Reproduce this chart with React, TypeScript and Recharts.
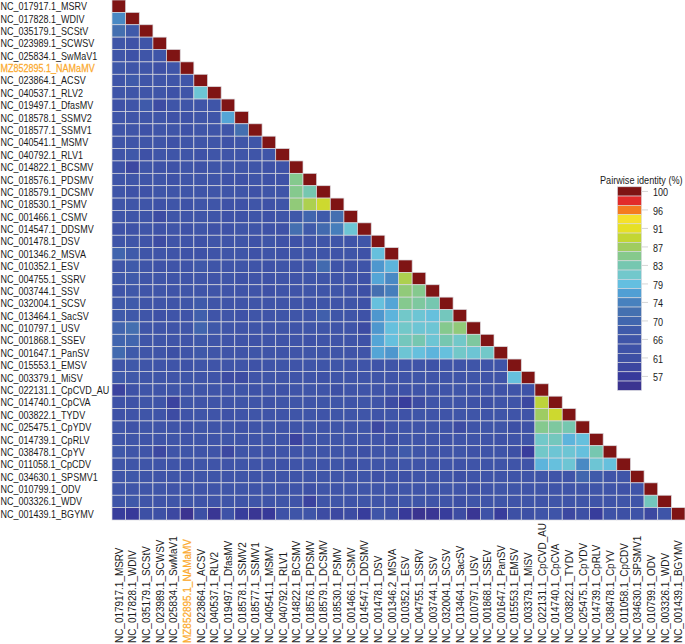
import { Scatter, ScatterChart, XAxis, YAxis } from "recharts";

const taxa = [
  "NC_017917.1_MSRV", "NC_017828.1_WDIV", "NC_035179.1_SCStV", "NC_023989.1_SCWSV", "NC_025834.1_SwMaV1",
  "MZ852895.1_NAMaMV", "NC_023864.1_ACSV", "NC_040537.1_RLV2", "NC_019497.1_DfasMV", "NC_018578.1_SSMV2",
  "NC_018577.1_SSMV1", "NC_040541.1_MSMV", "NC_040792.1_RLV1", "NC_014822.1_BCSMV", "NC_018576.1_PDSMV",
  "NC_018579.1_DCSMV", "NC_018530.1_PSMV", "NC_001466.1_CSMV", "NC_014547.1_DDSMV", "NC_001478.1_DSV",
  "NC_001346.2_MSVA", "NC_010352.1_ESV", "NC_004755.1_SSRV", "NC_003744.1_SSV", "NC_032004.1_SCSV",
  "NC_013464.1_SacSV", "NC_010797.1_USV", "NC_001868.1_SSEV", "NC_001647.1_PanSV", "NC_015553.1_EMSV",
  "NC_003379.1_MiSV", "NC_022131.1_CpCVD_AU", "NC_014740.1_CpCVA", "NC_003822.1_TYDV", "NC_025475.1_CpYDV",
  "NC_014739.1_CpRLV", "NC_038478.1_CpYV", "NC_011058.1_CpCDV", "NC_034630.1_SPSMV1", "NC_010799.1_ODV",
  "NC_003326.1_WDV", "NC_001439.1_BGYMV",
];

// lower triangle of the identity matrix, one row per taxon
const identity: number[][] = [
  [100],
  [75, 100],
  [72, 68, 100],
  [66, 64, 66, 100],
  [66, 64, 66, 66, 100],
  [67, 66, 66, 63, 66, 100],
  [66, 68, 66, 66, 66, 66, 100],
  [66, 66, 66, 66, 64, 66, 80, 100],
  [64, 66, 68, 61, 66, 66, 66, 66, 100],
  [66, 66, 66, 66, 64, 64, 66, 66, 77, 100],
  [66, 66, 64, 66, 66, 64, 66, 66, 66, 72, 100],
  [66, 66, 66, 66, 64, 66, 66, 66, 64, 66, 66, 100],
  [66, 67, 63, 66, 66, 66, 64, 66, 66, 66, 66, 66, 100],
  [64, 60, 66, 64, 64, 66, 64, 66, 66, 66, 66, 64, 64, 100],
  [66, 66, 66, 66, 64, 66, 66, 66, 64, 64, 66, 64, 64, 85, 100],
  [66, 64, 64, 66, 66, 66, 66, 66, 66, 66, 64, 66, 66, 85, 83, 100],
  [66, 66, 66, 64, 66, 64, 66, 66, 64, 64, 66, 64, 66, 86, 88, 90, 100],
  [66, 66, 66, 61, 66, 66, 66, 66, 64, 64, 66, 64, 66, 67, 70, 68, 72, 100],
  [64, 64, 66, 64, 66, 64, 66, 64, 64, 66, 66, 64, 64, 72, 68, 71, 74, 80, 100],
  [66, 66, 65, 61, 65, 65, 64, 66, 65, 66, 64, 66, 64, 64, 65, 66, 66, 65, 66, 100],
  [70, 68, 66, 65, 65, 64, 64, 65, 66, 66, 64, 65, 64, 66, 65, 66, 65, 66, 64, 79, 100],
  [66, 68, 66, 64, 65, 65, 67, 66, 65, 66, 65, 64, 66, 65, 66, 71, 65, 65, 65, 76, 78, 100],
  [67, 68, 66, 66, 65, 65, 66, 65, 66, 64, 65, 64, 65, 65, 66, 66, 65, 65, 64, 77, 75, 88, 100],
  [66, 67, 66, 66, 65, 66, 66, 66, 65, 65, 65, 63, 65, 65, 66, 66, 66, 65, 62, 72, 74, 86, 85, 100],
  [67, 68, 66, 65, 65, 66, 68, 66, 65, 65, 66, 65, 65, 65, 64, 66, 65, 66, 64, 79, 77, 85, 84, 83, 100],
  [68, 67, 66, 63, 65, 65, 69, 65, 66, 64, 66, 65, 66, 66, 66, 69, 66, 66, 64, 76, 78, 81, 80, 79, 82, 100],
  [70, 72, 66, 65, 65, 66, 70, 67, 66, 65, 66, 65, 66, 65, 66, 66, 65, 65, 61, 76, 79, 81, 80, 80, 85, 86, 100],
  [70, 70, 66, 66, 65, 65, 67, 66, 65, 65, 64, 65, 65, 65, 64, 65, 65, 65, 64, 77, 79, 82, 83, 80, 83, 81, 84, 100],
  [71, 68, 66, 65, 62, 65, 67, 66, 65, 65, 66, 65, 65, 65, 66, 66, 66, 65, 65, 77, 76, 80, 79, 78, 79, 81, 80, 81, 100],
  [66, 67, 66, 65, 65, 64, 66, 65, 66, 66, 64, 65, 66, 65, 66, 66, 66, 65, 65, 65, 66, 65, 65, 64, 65, 65, 66, 65, 65, 100],
  [68, 67, 66, 66, 65, 66, 65, 65, 61, 61, 65, 66, 65, 65, 65, 64, 65, 65, 65, 66, 65, 65, 66, 65, 65, 65, 66, 65, 65, 79, 100],
  [59, 64, 66, 65, 66, 65, 66, 65, 65, 66, 64, 65, 64, 65, 66, 65, 62, 65, 65, 65, 65, 64, 65, 65, 65, 66, 65, 65, 64, 65, 64, 100],
  [64, 64, 66, 65, 59, 66, 65, 65, 65, 66, 65, 64, 66, 66, 65, 66, 66, 65, 66, 65, 61, 58, 61, 65, 66, 65, 64, 62, 65, 65, 60, 89, 100],
  [64, 65, 66, 65, 61, 65, 66, 65, 64, 65, 66, 65, 65, 66, 66, 65, 66, 66, 66, 65, 66, 64, 66, 65, 65, 66, 66, 65, 66, 65, 65, 87, 90, 100],
  [66, 64, 66, 65, 65, 64, 66, 65, 65, 64, 65, 66, 65, 65, 66, 65, 66, 65, 66, 60, 65, 65, 65, 66, 65, 61, 65, 66, 66, 62, 64, 85, 84, 83, 100],
  [66, 66, 65, 65, 66, 65, 66, 65, 66, 65, 65, 66, 65, 59, 65, 66, 66, 65, 65, 65, 62, 66, 65, 65, 64, 65, 65, 65, 64, 65, 65, 81, 82, 78, 79, 100],
  [67, 66, 65, 60, 66, 66, 65, 65, 60, 66, 65, 64, 65, 65, 66, 65, 66, 65, 62, 66, 66, 68, 66, 65, 65, 66, 64, 65, 65, 62, 58, 81, 80, 80, 79, 83, 100],
  [66, 66, 66, 65, 65, 64, 66, 65, 65, 66, 65, 65, 64, 65, 66, 65, 66, 62, 65, 66, 66, 66, 65, 65, 65, 64, 65, 65, 65, 65, 65, 78, 79, 80, 75, 80, 79, 100],
  [66, 67, 66, 65, 66, 65, 66, 66, 65, 66, 65, 65, 65, 65, 66, 66, 66, 65, 66, 63, 65, 63, 65, 65, 65, 62, 65, 65, 65, 65, 65, 66, 65, 65, 70, 68, 65, 66, 100],
  [66, 66, 66, 66, 65, 66, 65, 65, 66, 66, 65, 66, 65, 65, 62, 66, 65, 66, 66, 66, 65, 66, 65, 65, 66, 65, 62, 65, 66, 66, 65, 66, 65, 65, 66, 66, 65, 64, 65, 100],
  [66, 67, 66, 65, 66, 66, 65, 65, 66, 65, 66, 65, 66, 65, 59, 66, 66, 65, 66, 66, 65, 66, 66, 65, 65, 62, 66, 65, 66, 65, 66, 65, 66, 65, 66, 65, 65, 66, 66, 82, 100],
  [58, 57, 62, 62, 60, 55, 62, 56, 64, 58, 56, 57, 64, 66, 66, 61, 60, 61, 58, 66, 62, 57, 55, 56, 58, 61, 56, 64, 58, 62, 62, 65, 65, 60, 62, 58, 64, 62, 64, 60, 66, 100],
];

const stopValues = [100, 97.9, 95.8, 93.6, 91.5, 89.4, 87.2, 85.1, 83, 80.8, 78.7, 76.6, 74.4, 72.3, 70.2, 68, 65.9, 63.8, 61.6, 59.5, 57.4, 55.2];
const stopColors = [
  "#7f1414", "#e22b2b", "#f47b20", "#f5e12b", "#e6e025", "#c3d633", "#a0cc5f", "#86c98c", "#76c7b0", "#72c8cc", "#64bfe0",
  "#509fd4", "#4781be", "#4470b0", "#4166ae", "#3f5aaa", "#3f55a8", "#3e52a7", "#3d4fa4", "#3c46a0", "#373a9b", "#3b3490",
];
const legendTicks = ["100", "96", "91", "87", "83", "79", "74", "70", "66", "61", "57"];

const WIDTH = 685;
const HEIGHT = 644;
const LEFT = 112;
const BOTTOM = 124;
const CELL_W = (WIDTH - LEFT) / taxa.length;
const CELL_H = (HEIGHT - BOTTOM) / taxa.length;
const HIGHLIGHT = 5;
const FONT = "'Liberation Sans', Arial, sans-serif";

const cells = identity.flatMap((vals, row) => vals.map((value, col) => ({ col, row, value })));
const indices = taxa.map((_, i) => i);

function hex(c: string) {
  return [1, 3, 5].map((i) => parseInt(c.slice(i, i + 2), 16));
}

function colorFor(v: number) {
  if (v >= 100) return stopColors[0];
  for (let i = 1; i < stopValues.length; i++) {
    if (v >= stopValues[i]) {
      const t = (v - stopValues[i]) / (stopValues[i - 1] - stopValues[i]);
      const a = hex(stopColors[i]);
      const b = hex(stopColors[i - 1]);
      return `rgb(${a.map((x, k) => Math.round(x + (b[k] - x) * t)).join(",")})`;
    }
  }
  return stopColors[stopColors.length - 1];
}

const Cell = (props: any) => (
  <rect
    x={props.cx - CELL_W / 2}
    y={props.cy - CELL_H / 2}
    width={CELL_W}
    height={CELL_H}
    fill={colorFor(props.payload.value)}
    stroke="#d9d9de"
    strokeWidth={0.7}
  />
);

const labelStyle = (i: number) =>
  i === HIGHLIGHT ? { fill: "#fbaa2e", stroke: "#fbaa2e", strokeWidth: 0.25 } : { fill: "#1a1a1a" };

const XTick = ({ x, payload }: any) => (
  <text
    transform={`translate(${x + 4} 643) rotate(-90) scale(0.905 1)`}
    fontSize={11}
    fontFamily={FONT}
    {...labelStyle(payload.value)}
  >
    {taxa[payload.value]}
  </text>
);

const YTick = ({ y, payload }: any) => (
  <text
    transform={`translate(0.5 ${y + 4}) scale(0.82 1)`}
    fontSize={11}
    fontFamily={FONT}
    {...labelStyle(payload.value)}
  >
    {taxa[payload.value]}
  </text>
);

function ColorKey() {
  const top = 186.8;
  const h = 9.25;
  return (
    <svg width={WIDTH} height={HEIGHT} style={{ position: "absolute", left: 0, top: 0, pointerEvents: "none" }}>
      <text transform="translate(600 184) scale(0.83 1)" fontSize={11} fontFamily={FONT} fill="#1a1a1a">
        Pairwise identity (%)
      </text>
      {stopColors.map((c, i) => (
        <rect key={c + i} x={617.5} y={top + i * h} width={24} height={h} fill={c} stroke="#d9d9de" strokeWidth={0.6} />
      ))}
      {legendTicks.map((t, i) => {
        const y = top + h / 2 + i * 2 * h;
        return (
          <g key={t}>
            <line x1={641.5} x2={648} y1={y} y2={y} stroke="#d5d5d5" />
            <text transform={`translate(653 ${y + 5}) scale(0.82 1)`} fontSize={11} fontFamily={FONT} fill="#1a1a1a">
              {t}
            </text>
          </g>
        );
      })}
    </svg>
  );
}

export default function App() {
  return (
    <div style={{ position: "absolute", left: 0, top: 0, width: WIDTH, height: HEIGHT, background: "#fff" }}>
      <ScatterChart width={WIDTH} height={HEIGHT} margin={{ top: 0, right: 0, bottom: 0, left: 0 }}>
        <XAxis
          type="number"
          dataKey="col"
          domain={[-0.5, taxa.length - 0.5]}
          ticks={indices}
          interval={0}
          height={BOTTOM}
          axisLine={false}
          tickLine={false}
          tick={XTick}
        />
        <YAxis
          type="number"
          dataKey="row"
          reversed
          domain={[-0.5, taxa.length - 0.5]}
          ticks={indices}
          interval={0}
          width={LEFT}
          axisLine={false}
          tickLine={false}
          tick={YTick}
        />
        <Scatter data={cells} shape={Cell} isAnimationActive={false} />
      </ScatterChart>
      <ColorKey />
    </div>
  );
}
